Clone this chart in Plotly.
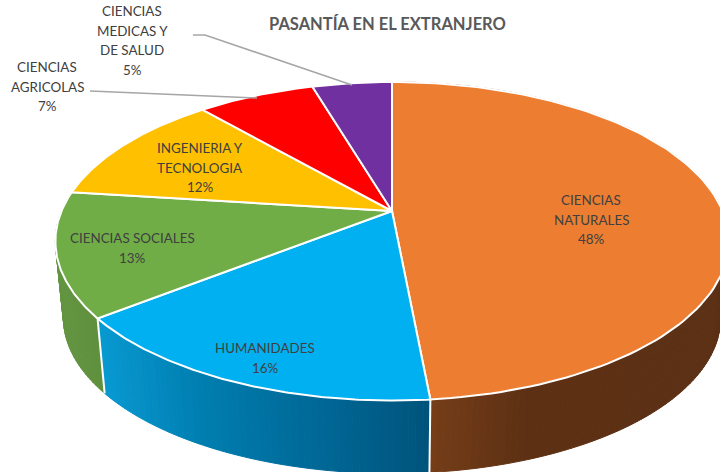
import numpy as np
import plotly.graph_objects as go

title = "PASANTÍA EN EL EXTRANJERO"
categories = ["CIENCIAS NATURALES", "HUMANIDADES", "CIENCIAS SOCIALES",
              "INGENIERIA Y TECNOLOGIA", "CIENCIAS AGRICOLAS", "CIENCIAS MEDICAS Y DE SALUD"]
values = [48.5, 15.9, 12.6, 11.6, 6.8, 4.6]
percent_labels = ["48%", "16%", "13%", "12%", "7%", "5%"]
label_lines = [["CIENCIAS", "NATURALES"], ["HUMANIDADES"], ["CIENCIAS SOCIALES"],
               ["INGENIERIA Y", "TECNOLOGIA"], ["CIENCIAS", "AGRICOLAS"],
               ["CIENCIAS", "MEDICAS Y", "DE SALUD"]]
label_x = [591, 265, 132, 200, 47, 132]
label_y = [200, 348, 238, 148, 67, 11]
top_colors = ["#ED7D31", "#00B0F0", "#70AD47", "#FFC000", "#FF0000", "#7030A0"]
# wall colour stops: (screen x, r, g, b)
wall_stops = {
    0: [(430, 118, 62, 25), (525, 94, 49, 20), (720, 92, 48, 20)],
    1: [(105, 8, 152, 208), (200, 0, 126, 176), (330, 0, 102, 148), (430, 0, 84, 124)],
    2: [(55, 100, 150, 66), (105, 94, 143, 60)],
}

CX, CY = 392.0, 211.0
A, B, K = 330.5, 153.5, 0.19
DROP, S = 77.5, 0.976


def project(theta, scale=1.0, yoff=0.0):
    x, y = np.sin(theta), np.cos(theta)
    w = 1 + K * y
    return CX + scale * A * x / w, CY + yoff - scale * B * y / w


def rgb_at(stops, x):
    xs = [s[0] for s in stops]
    return "rgb(%d,%d,%d)" % tuple(np.interp(x, xs, [s[i] for s in stops]) for i in (1, 2, 3))


fig = go.Figure()
total = sum(values)
edges = np.concatenate([[0], np.cumsum(values)]) / total * 2 * np.pi

# side walls of the three front slices
for i in (2, 1, 0):
    lo, hi = edges[i], edges[i + 1]
    n = max(4, int(np.degrees(hi - lo) / 1.0))
    ts = np.linspace(lo, hi, n + 1)
    for a, b in zip(ts[:-1], ts[1:]):
        seg = np.linspace(a, b, 4)
        x1, y1 = project(seg)
        x2, y2 = project(seg[::-1], S, DROP)
        col = rgb_at(wall_stops[i], float(np.mean(x1)))
        fig.add_trace(go.Scatter(x=np.r_[x1, x2, x1[0]], y=np.r_[y1, y2, y1[0]], mode="lines",
                                 fill="toself", fillcolor=col, line=dict(color=col, width=1),
                                 hoverinfo="skip", showlegend=False))

# white seams between the walls
for e in (edges[1], edges[2]):
    xa, ya = project(np.array([e]))
    xb, yb = project(np.array([e]), S, DROP)
    fig.add_trace(go.Scatter(x=[xa[0], xb[0]], y=[ya[0], yb[0]], mode="lines",
                             line=dict(color="white", width=2), hoverinfo="skip", showlegend=False))

# top faces
for i, name in enumerate(categories):
    arc = np.linspace(edges[i], edges[i + 1], 120)
    x, y = project(arc)
    fig.add_trace(go.Scatter(x=np.r_[CX, x, CX], y=np.r_[CY, y, CY], mode="lines", fill="toself",
                             fillcolor=top_colors[i], line=dict(color="white", width=2),
                             name=name, hoverinfo="name", showlegend=False))

# leader lines
fig.add_trace(go.Scatter(x=[193, 205, 352], y=[35, 35, 85], mode="lines",
                         line=dict(color="#A6A6A6", width=1.5), hoverinfo="skip", showlegend=False))
fig.add_trace(go.Scatter(x=[90, 257], y=[91, 98], mode="lines",
                         line=dict(color="#A6A6A6", width=1.5), hoverinfo="skip", showlegend=False))

FONT = "Lato"
STEP = 19.7
for lines, pct, lx, ly in zip(label_lines, percent_labels, label_x, label_y):
    for j, txt in enumerate(lines + [pct]):
        fig.add_annotation(x=lx, y=ly + j * STEP, text=txt, showarrow=False, xref="x", yref="y",
                           xanchor="center", yanchor="middle",
                           font=dict(family=FONT, size=13.4, color="#404040"))
fig.add_annotation(x=387.5, y=24, text="<b>%s</b>" % title, showarrow=False, xref="x", yref="y",
                   xanchor="center", yanchor="middle", font=dict(family=FONT, size=16.5, color="#595959"))

fig.update_layout(width=720, height=472, margin=dict(l=0, r=0, t=0, b=0),
                  paper_bgcolor="white", plot_bgcolor="white", showlegend=False,
                  xaxis=dict(range=[0, 720], visible=False, fixedrange=True),
                  yaxis=dict(range=[472, 0], visible=False, fixedrange=True))
fig.write_html("out.html", config={"displayModeBar": False},
               post_script="document.body.style.margin='0';")
